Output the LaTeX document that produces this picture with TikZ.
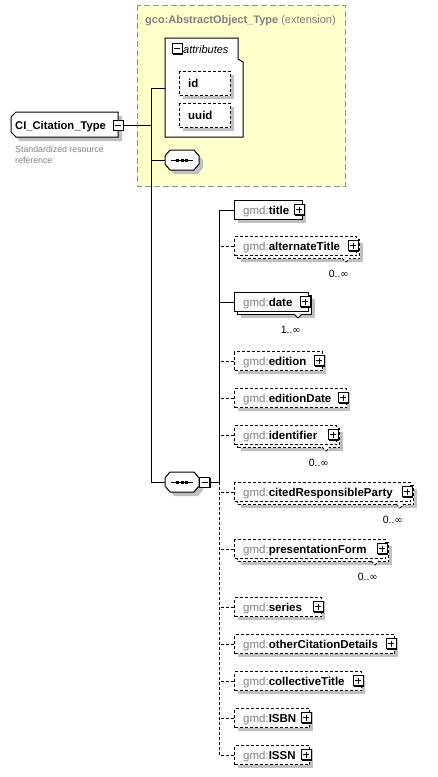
\documentclass[tikz,border=0pt]{standalone}
\usepackage{fontspec}
\setmainfont{Liberation Sans}
\newfontfamily\symfont{DejaVu Sans}
\usetikzlibrary{shadows}
\definecolor{nsgray}{RGB}{128,128,128}
\definecolor{shadowc}{RGB}{192,192,192}
\definecolor{yel}{RGB}{255,255,204}
\definecolor{yelborder}{RGB}{150,150,150}
\tikzset{
 conn/.style={line width=1pt},
 dconn/.style={line width=1pt, dash pattern=on 3pt off 2pt},
 solidb/.style={solid},
 dashb/.style={dash pattern=on 3pt off 2pt},
 elbox/.style={draw, fill=white, line width=1pt, minimum height=19pt, inner sep=0pt, anchor=north west},
 eltext/.style={anchor=base west, inner sep=0pt, font=\fontsize{11.5}{13}\selectfont},
 mult/.style={anchor=base east, inner sep=0pt, font=\fontsize{10.5}{12}\selectfont},
 pmbox/.style={draw, fill=white, line width=0.9pt, minimum size=10pt, inner sep=0pt,
   drop shadow={shadow xshift=1.2pt, shadow yshift=-1.2pt, fill=black, opacity=1}},
 plusbox/.style={pmbox, path picture={\draw[line width=0.9pt]
   ([xshift=2pt]path picture bounding box.west) -- ([xshift=-2pt]path picture bounding box.east)
   ([yshift=-2pt]path picture bounding box.north) -- ([yshift=2pt]path picture bounding box.south);}},
 minusbox/.style={pmbox, path picture={\draw[line width=0.9pt]
   ([xshift=2pt]path picture bounding box.west) -- ([xshift=-2pt]path picture bounding box.east);}},
 anchorbox/.style={draw=none, inner sep=0pt},
}
\newcommand{\infsym}{{\symfont\fontsize{10}{12}\selectfont ∞}}
% single element: name, centre y, right x, label, box style
\newcommand{\ElS}[5]{%
 \fill[shadowc] (238,#2-6) rectangle (#3+4,#2+13);
 \node[elbox,#5,minimum width={#3-234}] (#1) at (234,#2-10) {};
 \node[eltext] (#1-t) at (243,#2+4) {\textcolor{nsgray}{gmd:}\textbf{#4}};
 \node[plusbox] (#1-p) at (#3-3,#2-0.5) {};
}
% multiple element: name, centre y, right x, label, box style, multiplicity
\newcommand{\ElM}[6]{%
 \fill[shadowc] (241,#2-3) rectangle (#3+7,#2+16);
 \node[elbox,#5,minimum width={#3-234}] (#1-b) at (237,#2-7) {};
 \draw[#5, line width=1pt, fill=white] (#3-14,#2+12) -- (#3-10,#2+16) -- (#3-6,#2+12);
 \node[elbox,#5,minimum width={#3-234}] (#1) at (234,#2-10) {};
 \node[eltext] (#1-t) at (243,#2+4) {\textcolor{nsgray}{gmd:}\textbf{#4}};
 \node[plusbox] (#1-p) at (#3-3,#2-0.5) {};
 \node[mult] (#1-m) at (#3-7,#2+31) {#6};
}
% sequence compositor: name, cx, cy
\newcommand{\SeqShape}[3]{%
 \fill[shadowc,shift={(4,4)}] (#2-12,#3-10) -- (#2+12,#3-10) -- (#2+17,#3-4) -- (#2+17,#3+4)
   -- (#2+12,#3+10) -- (#2-12,#3+10) -- (#2-17,#3+4) -- (#2-17,#3-4) -- cycle;
 \draw[line width=1pt, fill=white] (#2-12,#3-10) -- (#2+12,#3-10) -- (#2+17,#3-4) -- (#2+17,#3+4)
   -- (#2+12,#3+10) -- (#2-12,#3+10) -- (#2-17,#3+4) -- (#2-17,#3-4) -- cycle;
 \node[anchorbox, minimum width=34pt, minimum height=20pt] (#1) at (#2,#3) {};
 \draw[line width=1pt] (#2-11,#3) -- (#2+11,#3);
 \fill (#2-6,#3-1.5) rectangle (#2-3,#3+1.5);
 \fill (#2-1.5,#3-1.5) rectangle (#2+1.5,#3+1.5);
 \fill (#2+3,#3-1.5) rectangle (#2+6,#3+1.5);
}
\begin{document}
\begin{tikzpicture}[x=1pt,y=-1pt]
\useasboundingbox (0,0) rectangle (438,777);
\fill[white] (0,0) rectangle (438,777);

% extension group
\fill[yel] (137,5) rectangle (345,186);
\draw[yelborder, line width=1pt, dash pattern=on 6pt off 3pt] (137,5) rectangle (345,186);
\node[anchor=base west, inner sep=0pt, font=\fontsize{11}{13}\selectfont, text=nsgray] (ytitle) at (145,23)
  {\textbf{gco:AbstractObject\_Type} (extension)};

% attributes group
\draw[line width=1pt, fill=white] (165,38) -- (238,38) -- (238,59) -- (243,62) -- (243,137) -- (165,137) -- cycle;
\node[minusbox] (attrm) at (177,48.5) {};
\node[anchor=base west, inner sep=0pt, font=\fontsize{11}{13}\selectfont\itshape] (attrt) at (183,53) {attributes};
\fill[shadowc] (183,75) rectangle (234,99);
\node[elbox, dashb, minimum width=51pt, minimum height=24pt] (id) at (179,71) {};
\node[eltext] (id-t) at (188,87) {\textbf{id}};
\fill[shadowc] (183,107) rectangle (234,131);
\node[elbox, dashb, minimum width=51pt, minimum height=24pt] (uuid) at (179,103) {};
\node[eltext] (uuid-t) at (188,119) {\textbf{uuid}};
\coordinate (attrL) at (165,88);

% main type
\fill[shadowc,shift={(4,4)}] (16,112) -- (118,112) -- (118,137) -- (16,137) -- (11,132) -- (11,117) -- cycle;
\draw[line width=1pt, fill=white] (16,112) -- (118,112) -- (118,137) -- (16,137) -- (11,132) -- (11,117) -- cycle;
\node[anchorbox, minimum width=107pt, minimum height=25pt] (ci) at (64.5,124.5) {};
\node[anchor=base west, inner sep=0pt, font=\fontsize{11.2}{13}\selectfont\bfseries] (ci-t) at (15,129) {CI\_Citation\_Type};
\node[minusbox] (cim) at (118,125) {};
\node[anchor=base west, inner sep=0pt, font=\fontsize{8.8}{11}\selectfont, text=nsgray] (desc1) at (15,152) {Standardized resource};
\node[anchor=base west, inner sep=0pt, font=\fontsize{8.8}{11}\selectfont, text=nsgray] (desc2) at (15,163) {reference};

% sequences
\SeqShape{seq1}{182}{160}
\SeqShape{seq2}{182}{482}
\node[minusbox] (seq2m) at (204.5,482) {};

% connectors (left part)
\coordinate (j1) at (151,125);
\coordinate (j2) at (219,482);
\draw[conn] (cim.east) -- (j1);
\draw[conn] (attrL) -| (j1 |- seq2.west) -- (seq2.west);
\draw[conn] (seq1.west) -- (seq1.west -| j1);
\draw[conn] (seq2m.east) -- (j2);

% elements
\ElS{title}{210}{302}{title}{solidb}
\ElM{alt}{246}{356}{alternateTitle}{dashb}{0..\infsym}
\ElM{date}{302}{308}{date}{solidb}{1..\infsym}
\ElS{edition}{361}{322}{edition}{dashb}
\ElS{edDate}{398}{346}{editionDate}{dashb}
\ElM{ident}{435}{336}{identifier}{dashb}{0..\infsym}
\ElM{crp}{492}{410}{citedResponsibleParty}{dashb}{0..\infsym}
\ElM{pf}{549}{385}{presentationForm}{dashb}{0..\infsym}
\ElS{series}{607}{321}{series}{dashb}
\ElS{ocd}{644}{394}{otherCitationDetails}{dashb}
\ElS{ct}{681}{361}{collectiveTitle}{dashb}
\ElS{isbn}{718}{309}{ISBN}{dashb}
\ElS{issn}{755}{309}{ISSN}{dashb}

% connectors (right part)
\draw[conn] (title.west) -| (j2);
\draw[dconn] (j2) |- (issn.west);
\draw[conn] (date.west) -- (date.west -| j2);
\foreach \n in {alt,edition,edDate,ident,crp,pf,series,ocd,ct,isbn}
  \draw[dconn] (\n.west) -- (\n.west -| j2);
\end{tikzpicture}
\end{document}
